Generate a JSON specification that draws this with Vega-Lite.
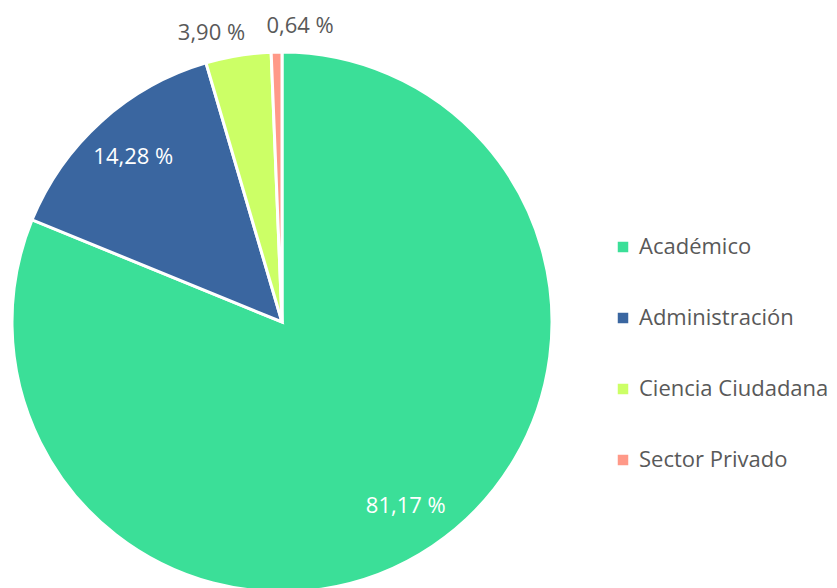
{
  "$schema": "https://vega.github.io/schema/vega-lite/v6.json",
  "width": 564,
  "height": 644,
  "autosize": {"type": "none"},
  "padding": {"left": 0, "top": 0, "right": 273, "bottom": 0},
  "background": "white",
  "config": {"view": {"stroke": null}, "font": "Open Sans"},
  "data": {
    "values": [
      {"sector": "Académico", "pct": 81.17, "label": "81,17 %"},
      {"sector": "Administración", "pct": 14.28, "label": "14,28 %"},
      {"sector": "Ciencia Ciudadana", "pct": 3.90, "label": "3,90 %"},
      {"sector": "Sector Privado", "pct": 0.64, "label": "0,64 %"}
    ]
  },
  "encoding": {
    "theta": {"field": "pct", "type": "quantitative", "stack": true},
    "order": {"field": "pct", "type": "quantitative", "sort": "descending"},
    "color": {
      "field": "sector",
      "type": "nominal",
      "scale": {
        "domain": ["Académico", "Administración", "Ciencia Ciudadana", "Sector Privado"],
        "range": ["#3BDF98", "#3A66A0", "#CCFF66", "#FF9988"]
      },
      "legend": {
        "title": null,
        "orient": "none",
        "legendX": 612,
        "legendY": 236,
        "symbolType": "square",
        "symbolSize": 110,
        "symbolStrokeWidth": 0,
        "labelFontSize": 22,
        "labelColor": "#595959",
        "labelFont": "Open Sans",
        "rowPadding": 49,
        "labelOffset": 5,
        "labelLimit": 300
      }
    }
  },
  "layer": [
    {
      "mark": {"type": "arc", "outerRadius": 270, "stroke": "white", "strokeWidth": 3}
    },
    {
      "mark": {"type": "text", "radius": 222, "fontSize": 22},
      "encoding": {
        "text": {"condition": {"test": "datum.pct > 5", "field": "label"}, "value": ""},
        "color": {"value": "white"}
      }
    },
    {
      "mark": {"type": "text", "radius": 293, "fontSize": 22, "dx": -23},
      "encoding": {
        "text": {"condition": {"test": "datum.sector === 'Ciencia Ciudadana'", "field": "label"}, "value": ""},
        "color": {"value": "#595959"}
      }
    },
    {
      "mark": {"type": "text", "radius": 296, "fontSize": 22, "dx": 24},
      "encoding": {
        "text": {"condition": {"test": "datum.sector === 'Sector Privado'", "field": "label"}, "value": ""},
        "color": {"value": "#595959"}
      }
    }
  ]
}
